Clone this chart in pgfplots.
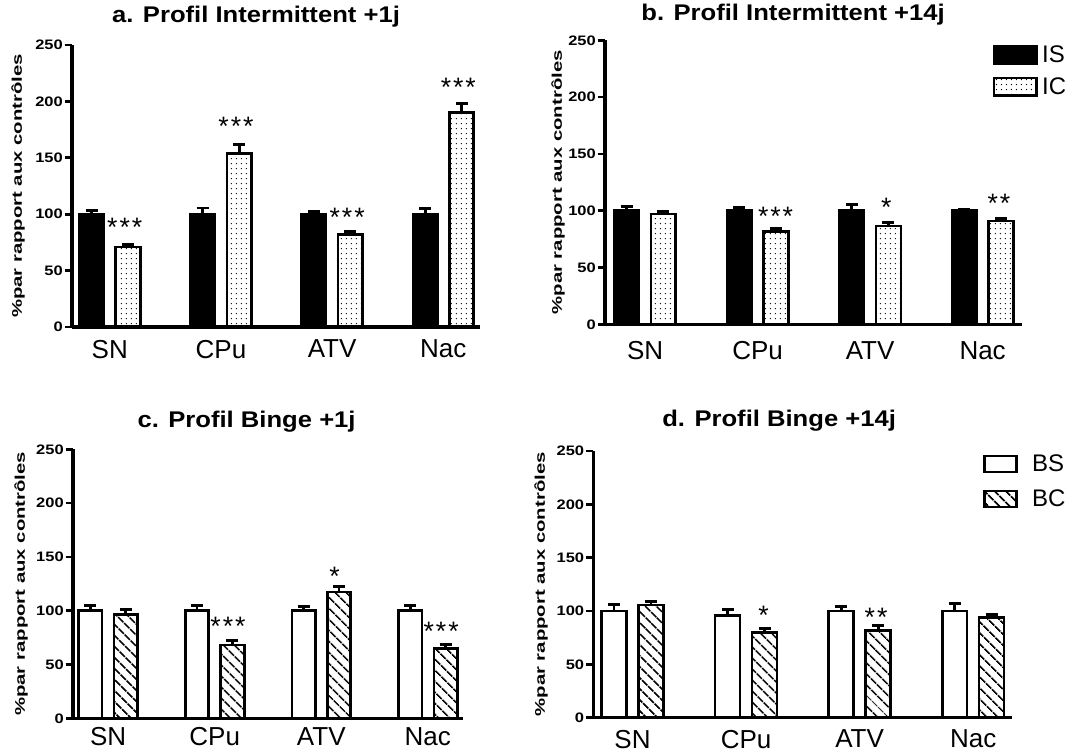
\documentclass[border=0pt]{standalone}
\usepackage{fontspec}
\setmainfont{Liberation Sans}
\usepackage{pgfplots}
\usepackage{pgfplotstable}
\pgfplotsset{compat=1.18}
\usetikzlibrary{patterns.meta}

\pgfplotstableread{
x y e
0 100 3
1 100 5.5
2 100 2
3 100 5
}\aIS
\pgfplotstableread{
x y e
0 71 2.5
1 154 7.5
2 82 2.5
3 190 8
}\aIC
\pgfplotstableread{
x y e
0 100 4
1 100 2.5
2 100 5.5
3 100 1
}\bIS
\pgfplotstableread{
x y e
0 97 2.5
1 81.5 2.5
2 86.5 3
3 91 2.5
}\bIC
\pgfplotstableread{
x y e
0 100 5
1 100 4.5
2 100 4
3 100 5
}\cBS
\pgfplotstableread{
x y e
0 96.5 4.5
1 68 4
2 117.5 5
3 65 4
}\cBC
\pgfplotstableread{
x y e
0 100 6
1 96 5.5
2 100 4.5
3 100 7
}\dBS
\pgfplotstableread{
x y e
0 105.5 3.5
1 80 4
2 82 4
3 94 3
}\dBC

\tikzset{
  isbar/.style={draw=black, fill=black, line width=2pt},
  bsbar/.style={draw=black, fill=white, line width=2pt},
  icbar/.style={draw=black, line width=2pt, pattern={Dots[radius=0.55pt, distance=4pt]}},
  bcbar/.style={draw=black, line width=2pt, pattern={Lines[angle=-45, distance=6.5pt, line width=1.6pt]}},
  stars/.style={font=\fontsize{20}{20}\selectfont, anchor=north, inner sep=0pt},
}

\pgfplotsset{
  eb/.style={error bars/.cd, y dir=plus, y explicit,
    error bar style={line width=2.2pt, draw=black},
    error mark options={rotate=90, line width=2.2pt, draw=black, mark size=4.5pt}},
  panel/.style={
    scale only axis, clip=false,
    ymin=0, ymax=250, ytick={0,50,100,150,200,250},
    xtick={0,1,2,3}, xticklabels={SN,CPu,ATV,Nac},
    axis lines*=left,
    axis line style={line width=2.4pt, black},
    tick align=outside,
    major tick length=5.5pt,
    ytick style={line width=2pt, black},
    xtick style={draw=none},
    /pgf/number format/assume math mode=true,
    yticklabel style={font=\bfseries\fontsize{10.3}{11}\selectfont, xscale=1.2, inner sep=1pt},
    xticklabel style={font=\fontsize{19.5}{22}\selectfont, inner sep=0pt, anchor=north},
    ylabel={\%par rapport aux contrôles},
    ylabel style={font=\bfseries\fontsize{10.5}{12}\selectfont, anchor=south, xscale=1.45, inner sep=0pt},
    title style={font=\bfseries\fontsize{17}{19}\selectfont, anchor=base, xscale=1.13, inner sep=0pt},
    ybar=9pt, bar width=0.22,
    legend style={draw=none, fill=none, anchor=north west, inner sep=0pt, outer sep=0pt,
      font=\fontsize{18}{20}\selectfont,
      cells={anchor=west}},
  },
}

\begin{document}
\begin{tikzpicture}
\path[use as bounding box] (0,0) rectangle (801.75pt,566.25pt);

% a
\begin{axis}[panel, at={(54pt,321pt)}, anchor=south west, width=306pt, height=211.5pt,
  xmin=-0.34, xmax=3.33,
  title={a. Profil Intermittent +1j},
  title style={at={(axis description cs:0.451,1.053)}},
  ylabel style={at={(axis description cs:-0.115,0.5)}},
  xticklabel style={yshift=-4pt}]
\addplot[isbar, eb] table[x=x, y=y, y error plus=e] {\aIS};
\addplot[icbar, eb] table[x=x, y=y, y error plus=e] {\aIC};
\node[stars] at (axis cs:0.135,96.4) {*\kern1.5pt*\kern1.5pt*};
\node[stars] at (axis cs:1.135,186.4) {*\kern1.5pt*\kern1.5pt*};
\node[stars] at (axis cs:2.135,106) {*\kern1.5pt*\kern1.5pt*};
\node[stars] at (axis cs:3.135,221) {*\kern1.5pt*\kern1.5pt*};
\end{axis}

% b
\begin{axis}[panel, at={(453.75pt,323pt)}, anchor=south west, width=312.75pt, height=213pt,
  xmin=-0.356, xmax=3.35,
  title={b. Profil Intermittent +14j},
  title style={at={(axis description cs:0.451,1.04)}},
  ylabel style={at={(axis description cs:-0.096,0.5)}},
  xticklabel style={yshift=-7pt},
  legend style={at={(axis description cs:0.930,0.992)}, column sep=1pt, row sep=6pt},
  legend image code/.code={\draw[#1, line width=2pt] (0pt,-6.5pt) rectangle (32pt,6.5pt);}]
\addplot[isbar, eb] table[x=x, y=y, y error plus=e] {\bIS};
\addlegendentry{IS}
\addplot[icbar, eb] table[x=x, y=y, y error plus=e] {\bIC};
\addlegendentry{IC}
\node[stars] at (axis cs:1.16,103.3) {*\kern1.5pt*\kern1.5pt*};
\node[stars] at (axis cs:2.145,111.4) {*};
\node[stars] at (axis cs:3.145,114.4) {*\kern1.5pt*};
\end{axis}

% c
\begin{axis}[panel, at={(54.75pt,27.5pt)}, anchor=south west, width=292.5pt, height=201.75pt,
  xmin=-0.33, xmax=3.33,
  title={c. Profil Binge +1j},
  title style={at={(axis description cs:0.445,1.053)}},
  ylabel style={at={(axis description cs:-0.115,0.5)}},
  xticklabel style={yshift=-1pt}]
\addplot[bsbar, eb] table[x=x, y=y, y error plus=e] {\cBS};
\addplot[bcbar, eb] table[x=x, y=y, y error plus=e] {\cBC};
\node[stars] at (axis cs:1.125,93.9) {*\kern1.5pt*\kern1.5pt*};
\node[stars] at (axis cs:2.125,140.9) {*};
\node[stars] at (axis cs:3.125,89.2) {*\kern1.5pt*\kern1.5pt*};
\end{axis}

% d
\begin{axis}[panel, at={(445pt,28pt)}, anchor=south west, width=313.8pt, height=200pt,
  xmin=-0.345, xmax=3.34,
  title={d. Profil Binge +14j},
  title style={at={(axis description cs:0.444,1.06)}},
  ylabel style={at={(axis description cs:-0.108,0.5)}},
  xticklabel style={yshift=-3.5pt},
  legend style={at={(axis description cs:0.931,0.996)}, column sep=9pt, row sep=8pt},
  legend image code/.code={\draw[#1, line width=2pt] (0pt,-6pt) rectangle (24pt,6pt);}]
\addplot[bsbar, eb] table[x=x, y=y, y error plus=e] {\dBS};
\addlegendentry{BS}
\addplot[bcbar, eb] table[x=x, y=y, y error plus=e] {\dBC};
\addlegendentry{BC}
\node[stars] at (axis cs:1.155,105) {*};
\node[stars] at (axis cs:2.145,102.5) {*\kern1.5pt*};
\end{axis}
\end{tikzpicture}
\end{document}
